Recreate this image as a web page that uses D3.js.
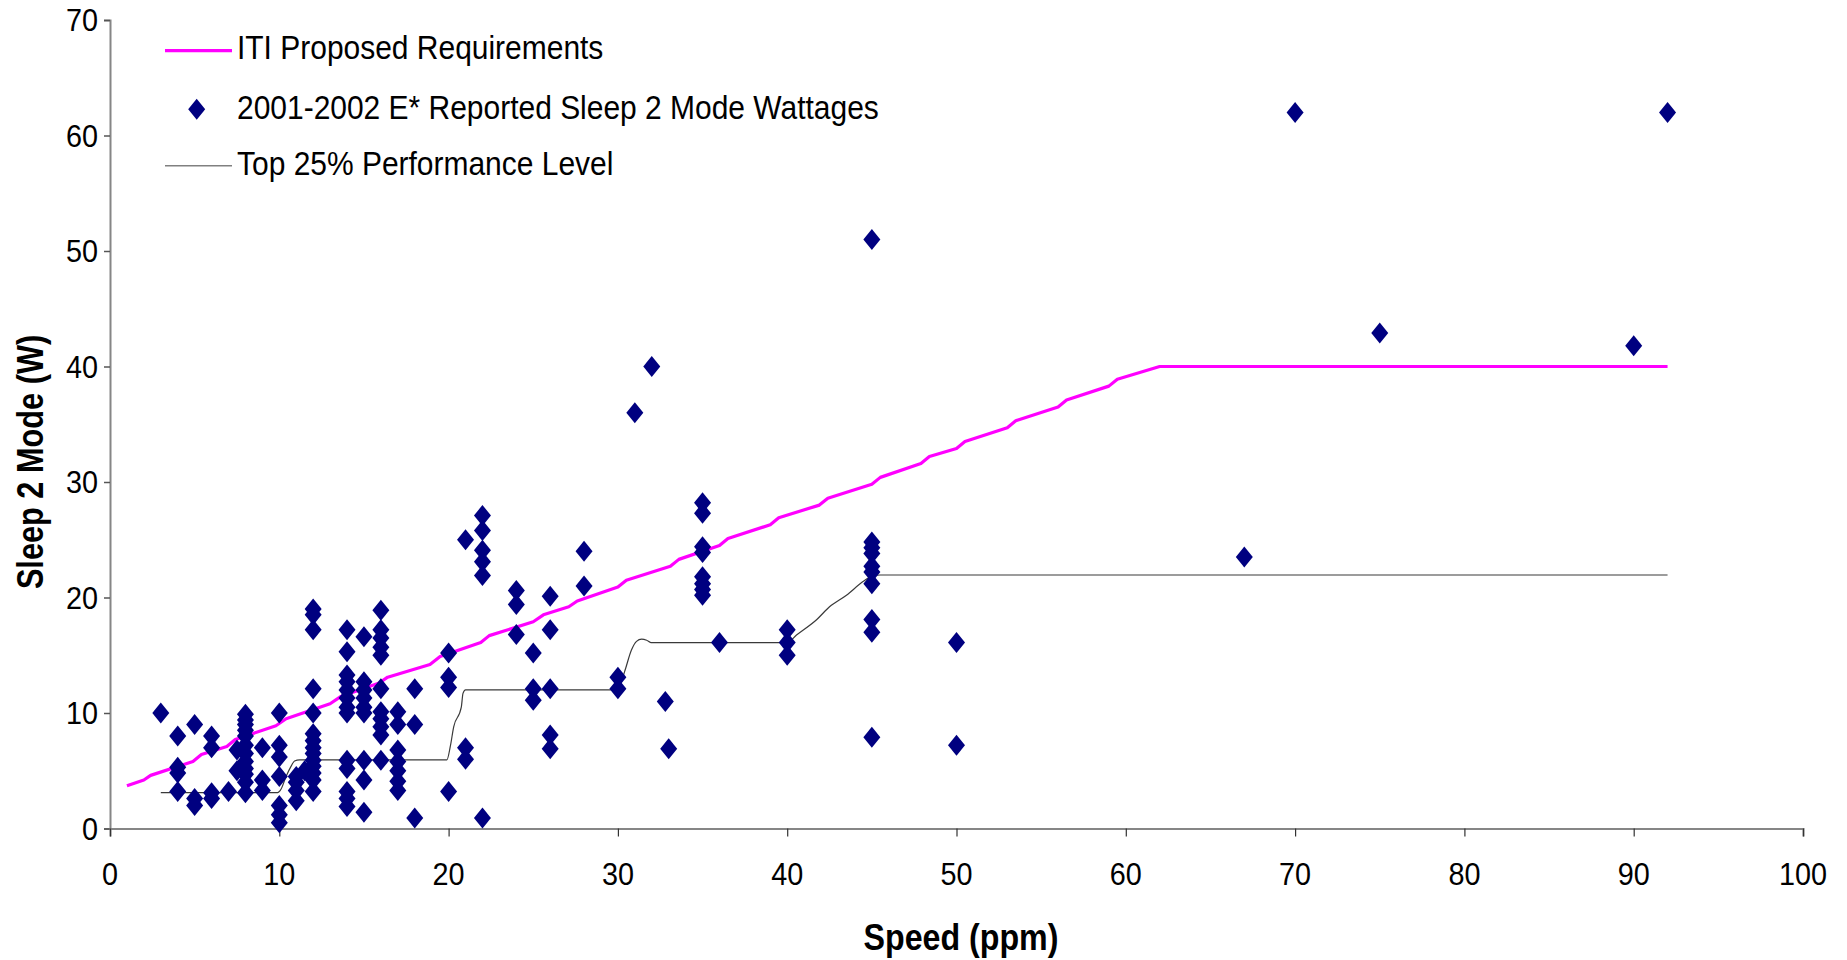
<!DOCTYPE html>
<html>
<head>
<meta charset="utf-8">
<script src="https://cdn.jsdelivr.net/npm/d3@7"></script>
<style>
  html, body { margin: 0; padding: 0; background: #fff; }
  svg { display: block; font-family: "Liberation Sans", Arial, sans-serif; }
</style>
</head>
<body>
<svg id="chart" width="1847" height="960"></svg>
<script>
// ---------- data ----------
const scatterSpeed = [
  3,
  4,4,4,4,
  5,5,5,
  6,6,6,6,
  7,
  7.5,7.5,
  8,8,8,8,8,8,8,8,8,8,8,8,
  9,9,9,
  10,10,10,10,10,10,10,
  11,11,11,11,
  11.5,
  12,12,12,12,12,12,12,12,12,12,12,12,12,12,
  14,14,14,14,14,14,14,14,14,14,14,14,14,
  15,15,15,15,15,15,15,15,15,
  16,16,16,16,16,16,16,16,16,16,16,
  17,17,17,17,17,17,17,
  18,18,18,
  20,20,20,20,
  21,21,21,
  22,22,22,22,22,22,
  24,24,24,
  25,25,25,
  26,26,26,26,26,
  28,28,
  30,30,
  31,
  32,
  32.8,
  33,
  35,35,35,35,35,35,35,35,
  36,
  40,40,40,
  45,45,45,45,45,45,45,45,45,45,
  50,50,
  67,70,75,90,92
];
const scatterWatts = [
  10,
  8,5.3,4.8,3.2,
  9,2.6,2.0,
  8,7,3.1,2.6,
  3.2,
  6.8,5.0,
  9.9,9.4,9.0,8.5,8.0,7.2,6.5,5.8,5.2,4.7,4.0,3.1,
  7,4.2,3.3,
  10,7.2,6.2,4.5,2.0,1.2,0.5,
  4.5,4.0,3.3,2.4,
  5.0,
  19.0,18.5,17.2,12.1,10.0,8.2,7.6,7.0,6.5,5.9,5.4,4.8,4.2,3.2,
  17.2,15.3,13.3,12.7,12.0,11.3,10.5,10.0,5.9,5.2,3.2,2.6,1.9,
  16.6,12.7,12.0,11.3,10.5,10.0,5.9,4.2,1.4,
  18.9,17.2,16.5,15.7,15.0,12.1,10.1,9.5,8.8,8.1,5.9,
  10.1,9.0,6.8,5.8,5.0,4.1,3.3,
  12.1,9.0,0.9,
  15.2,13.1,12.2,3.2,
  25,7.0,6.0,
  27.1,25.8,24.1,23.1,21.9,0.9,
  20.6,19.4,16.8,
  15.2,12.1,11.1,
  20.1,17.2,12.1,8.1,6.9,
  24.0,21.0,
  13.1,12.1,
  36,
  40,
  11.0,
  6.9,
  28.2,27.3,24.4,23.9,21.8,21.2,20.7,20.2,
  16.1,
  17.2,16.1,15.0,
  51,24.8,24.3,23.8,22.7,22.2,21.2,18.1,17.0,7.9,
  16.1,7.2,
  23.5,62,42.9,41.8,62
];

const itiSpeed = [1.0,2.0,2.4,4.9,5.4,6.9,7.4,9.8,10.4,13.0,13.6,15.9,16.4,18.9,19.5,21.9,22.4,25.0,25.6,27.1,27.6,30.0,30.5,33.1,33.6,36.0,36.5,39.0,39.5,41.9,42.4,45.0,45.5,47.9,48.4,50.0,50.5,53.0,53.5,56.0,56.5,59.0,59.5,62.0,92.0];
const itiWatts = [3.7,4.2,4.6,5.8,6.4,7.1,7.7,8.9,9.5,10.8,11.4,12.6,13.1,14.2,14.9,16.1,16.7,17.9,18.5,19.2,19.7,20.9,21.5,22.7,23.3,24.5,25.1,26.3,26.9,28.0,28.6,29.8,30.4,31.6,32.2,32.9,33.5,34.7,35.3,36.5,37.1,38.3,38.9,40.0,40.0];

const topSpeed = [3,9.9,10.1,10.4,10.7,10.9,11.2,19.9,20.1,20.3,20.75,20.85,21.0,30.0,30.4,30.8,31.1,31.4,31.7,31.95,40,40.55,41.75,42.5,43.5,44.5,45.0,45.5,92];
const topWatts = [3.1,3.1,3.4,4.5,5.4,5.85,5.95,5.95,7.1,8.8,10.5,11.7,12.0,12.0,13.6,15.45,16.2,16.4,16.3,16.1,16.1,16.75,18.1,19.2,20.2,21.4,21.85,21.95,21.95];

const xTicks = [0,10,20,30,40,50,60,70,80,90,100];
const yTicks = [0,10,20,30,40,50,60,70];

const xTitle = "Speed (ppm)";
const yTitle = "Sleep 2 Mode (W)";
const legendLabels = [
  "ITI Proposed Requirements",
  "2001-2002 E* Reported Sleep 2 Mode Wattages",
  "Top 25% Performance Level"
];

// ---------- drawing ----------
const svg = d3.select("#chart");
const x = d3.scaleLinear().domain([0, 100]).range([110, 1803]);
const y = d3.scaleLinear().domain([0, 70]).range([828.5, 20]);

const axisColor = "#868686";

// helper for horizontally condensed text
function ctext(g, tx, ty, str, opts) {
  return g.append("text")
    .attr("transform", `translate(${tx},${ty}) ${opts.rotate ? "rotate(" + opts.rotate + ")" : ""} scale(${opts.sx || 1},1)`)
    .attr("text-anchor", opts.anchor || "start")
    .attr("font-size", opts.size)
    .attr("font-weight", opts.weight || "normal")
    .attr("fill", "#000")
    .text(str);
}

// Y axis
const yAxis = d3.axisLeft(y).tickValues(yTicks).tickSize(6).tickFormat("");
const gy = svg.append("g").attr("transform", `translate(${x(0)},0)`).call(yAxis);
gy.select(".domain").attr("stroke", axisColor).attr("stroke-width", 2);
gy.selectAll(".tick line").attr("stroke", "#555").attr("stroke-width", 1.5);
yTicks.forEach(v => ctext(svg, 98, y(v) + 11, String(v), {anchor: "end", size: 32, sx: 0.9}));

// X axis
const xAxis = d3.axisBottom(x).tickValues(xTicks).tickSize(8).tickFormat("");
const gx = svg.append("g").attr("transform", `translate(0,${y(0)})`).call(xAxis);
gx.select(".domain").attr("stroke", axisColor).attr("stroke-width", 2);
gx.selectAll(".tick line").attr("stroke", "#333").attr("stroke-width", 1.2);
xTicks.forEach(v => ctext(svg, x(v), 885, String(v), {anchor: "middle", size: 32, sx: 0.9}));

// Titles
ctext(svg, 961, 950, xTitle, {anchor: "middle", size: 37, weight: "bold", sx: 0.87});
ctext(svg, 43, 462, yTitle, {anchor: "middle", size: 37, weight: "bold", sx: 0.83, rotate: -90});

// Lines
const itiData = itiSpeed.map((s, i) => [s, itiWatts[i]]);
const topData = topSpeed.map((s, i) => [s, topWatts[i]]);

svg.append("path")
  .datum(topData)
  .attr("fill", "none")
  .attr("stroke", "#3a3a3a")
  .attr("stroke-width", 1.2)
  .attr("d", d3.line().x(d => x(d[0])).y(d => y(d[1])).curve(d3.curveMonotoneX));

svg.append("path")
  .datum(itiData)
  .attr("fill", "none")
  .attr("stroke", "#ff00ff")
  .attr("stroke-width", 3.2)
  .attr("stroke-linejoin", "round")
  .attr("d", d3.line().x(d => x(d[0])).y(d => y(d[1])));

// Diamonds
const diamond = "M0,-10.5L8.5,0L0,10.5L-8.5,0Z";
const pts = scatterSpeed.map((s, i) => [s, scatterWatts[i]]);
svg.append("g").selectAll("path")
  .data(pts)
  .join("path")
  .attr("d", diamond)
  .attr("transform", d => `translate(${x(d[0])},${y(d[1])})`)
  .attr("fill", "#000080");

// Legend
const lg = svg.append("g");
lg.append("line").attr("x1", 165).attr("x2", 232).attr("y1", 50.7).attr("y2", 50.7)
  .attr("stroke", "#ff00ff").attr("stroke-width", 3.2);
ctext(lg, 237, 58.5, legendLabels[0], {size: 33.5, sx: 0.895});
lg.append("path").attr("d", diamond).attr("transform", "translate(196.7,109.3)").attr("fill", "#000080");
ctext(lg, 237, 118.5, legendLabels[1], {size: 33.5, sx: 0.895});
lg.append("line").attr("x1", 165).attr("x2", 232).attr("y1", 165.7).attr("y2", 165.7)
  .attr("stroke", "#808080").attr("stroke-width", 1.5);
ctext(lg, 237, 174.5, legendLabels[2], {size: 33.5, sx: 0.895});
</script>
</body>
</html>
